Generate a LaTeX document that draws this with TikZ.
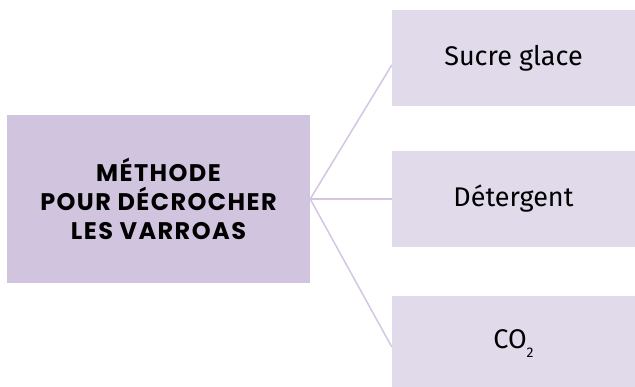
\documentclass[tikz,border=0pt]{standalone}
\usepackage{fontspec}
\setmainfont{Fira Sans}
\newfontfamily\titlefont{Poppins}[LetterSpace=6]
\usetikzlibrary{positioning}
\definecolor{mauve}{RGB}{209,196,222}
\definecolor{lightmauve}{RGB}{225,218,235}
\definecolor{linkmauve}{RGB}{212,198,226}
\tikzstyle{mainbox}=[rectangle,fill=mauve,minimum width=303pt,minimum height=168pt,inner sep=0pt,align=center,font=\titlefont\bfseries\fontsize{24}{29}\selectfont]
\tikzstyle{leafbox}=[rectangle,fill=lightmauve,minimum width=243pt,minimum height=96pt,inner sep=0pt,font=\fontsize{27}{30}\selectfont]
\tikzstyle{link} = [draw,line width=1.5pt,linkmauve]
\newcommand{\lowtwo}{\raisebox{-9pt}{\fontsize{14}{16}\selectfont 2}}

\begin{document}
\begin{tikzpicture}[x=1pt,y=-1pt]

    \useasboundingbox (0,0) rectangle (635,386);

    \node[mainbox] (methode) at (158.5,199) {MÉTHODE\\POUR DÉCROCHER\\LES VARROAS};

    \foreach \y/\name/\label in {58/sucre/{Sucre glace}, 199/detergent/{Détergent}, 344/co/{CO\lowtwo}}
        \node[leafbox] (\name) at (513.5,\y) {\label};

    \draw[link] (methode.east) -- ([yshift=-7pt]sucre.west);
    \draw[link] (methode.east) -- (detergent.west);
    \draw[link] (methode.east) -- ([yshift=-3pt]co.west);

\end{tikzpicture}
\end{document}
